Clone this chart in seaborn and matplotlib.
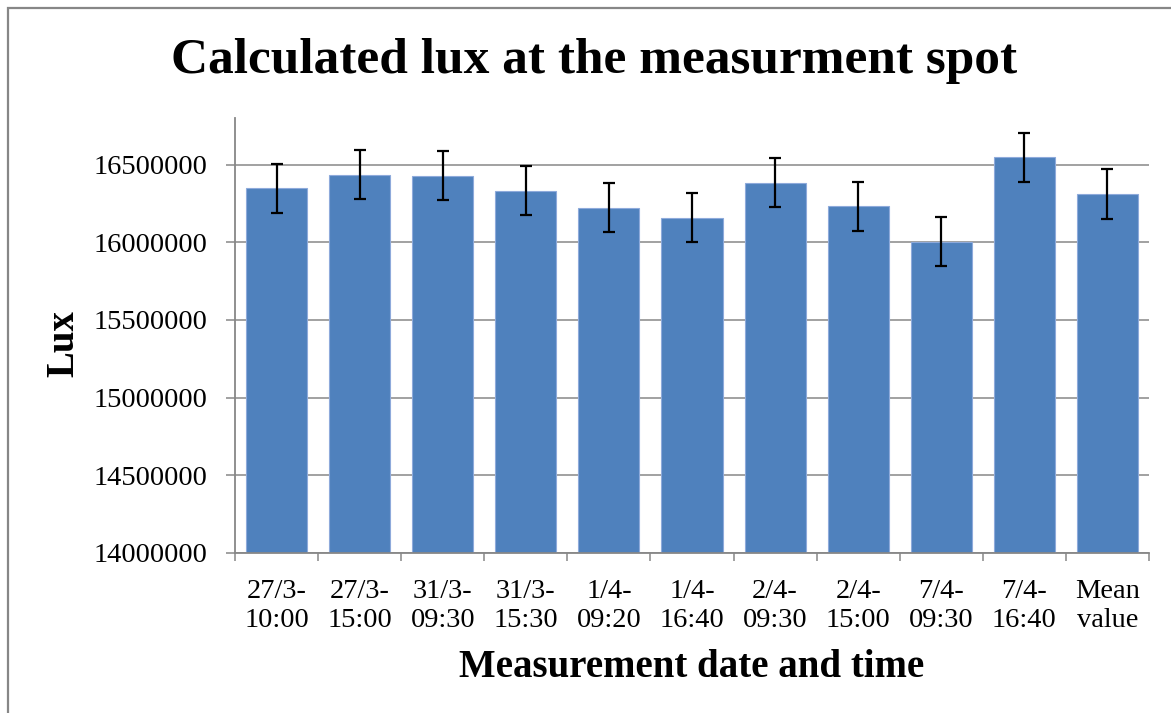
import matplotlib
matplotlib.use("Agg")
import matplotlib.pyplot as plt
from matplotlib.patches import Rectangle
from matplotlib.ticker import FixedLocator
import seaborn as sns
import pandas as pd

# Measurement slots and calculated illuminance
categories = ["27/3-\n10:00", "27/3-\n15:00", "31/3-\n09:30", "31/3-\n15:30",
              "1/4-\n09:20", "1/4-\n16:40", "2/4-\n09:30", "2/4-\n15:00",
              "7/4-\n09:30", "7/4-\n16:40", "Mean\nvalue"]
lux = [16348000, 16434000, 16429000, 16331000, 16223000, 16157000,
       16384000, 16232000, 16004000, 16547000, 16311000]
lux_err = [158000] * len(lux)
y_ticks = [14000000, 14500000, 15000000, 15500000, 16000000, 16500000]

sns.set_theme(style="white")
plt.rcParams["font.family"] = ["Liberation Serif", "DejaVu Serif"]
plt.rcParams["text.color"] = "black"

W, H = 1171, 713
fig = plt.figure(figsize=(W / 100, H / 100), dpi=100)
ax = fig.add_axes([235 / W, 1 - 553 / H, (1149 - 235) / W, (553 - 118) / H])

df = pd.DataFrame({"slot": categories, "lux": lux})
sns.barplot(data=df, x="slot", y="lux", color="#4F81BD", saturation=1,
            width=0.735, edgecolor="#8EAADB", linewidth=0.8, errorbar=None,
            ax=ax, zorder=2)
ax.errorbar(range(len(lux)), lux, yerr=lux_err, fmt="none", ecolor="black",
            elinewidth=1.6, capsize=4.6, capthick=1.6, zorder=3)

grey = "#878787"
ax.set_ylim(14000000, 16800000)
ax.set_xlim(-0.5, len(categories) - 0.5)
ax.set_yticks(y_ticks)
ax.set_yticklabels([str(v) for v in y_ticks])
ax.yaxis.grid(True, color=grey, linewidth=1.1, zorder=0)
ax.set_axisbelow(True)
for side in ("top", "right"):
    ax.spines[side].set_visible(False)
for side in ("left", "bottom"):
    ax.spines[side].set_color(grey)
    ax.spines[side].set_linewidth(1.3)

ax.tick_params(axis="y", which="major", direction="out", length=6.5, width=1.1,
               color=grey, left=True, pad=13, labelsize=20.5, labelcolor="black")
ax.tick_params(axis="x", which="major", length=0, pad=18.5, labelsize=20.5,
               labelcolor="black")
ax.xaxis.set_minor_locator(FixedLocator([i - 0.5 for i in range(len(categories) + 1)]))
ax.tick_params(axis="x", which="minor", direction="out", length=5.5, width=1.1,
               color=grey, bottom=True)
for lbl in ax.get_xticklabels():
    lbl.set_linespacing(1.23)

ax.set_xlabel("")
ax.set_ylabel("")

fig.text(594 / W, 1 - 73.5 / H, "Calculated lux at the measurment spot",
         ha="center", va="baseline", fontsize=37, fontweight="bold", color="black")
fig.text(691.5 / W, 1 - 677 / H, "Measurement date and time",
         ha="center", va="baseline", fontsize=28, fontweight="bold", color="black")
fig.text(64 / W, 1 - 344 / H, "Lux", ha="center", va="center",
         rotation=90, fontsize=28, fontweight="bold", color="black")

# chart-area border (top and left edges visible)
fig.add_artist(Rectangle((7.5 / W, -0.05), 1.2, 1 - 7.5 / H + 0.05,
                         transform=fig.transFigure, fill=False,
                         edgecolor=grey, linewidth=1.6))

fig.savefig("out.png", dpi=100)
